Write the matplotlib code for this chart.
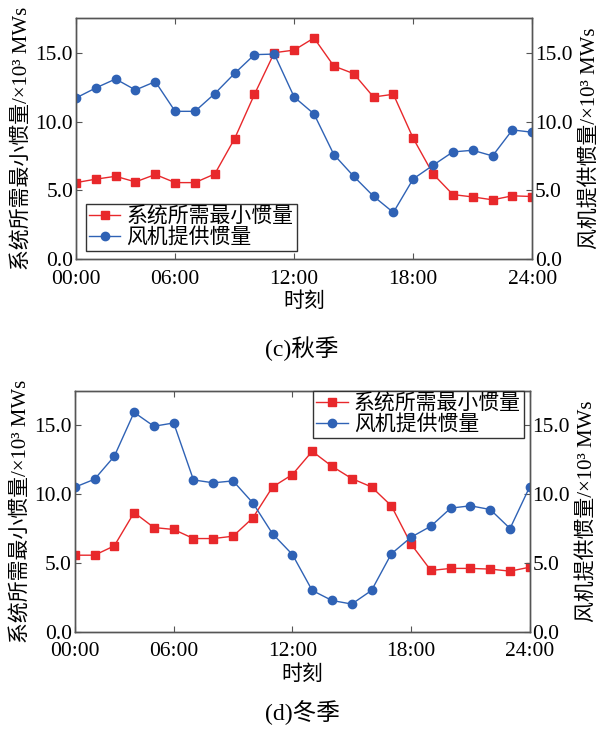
import matplotlib
matplotlib.use("Agg")
import matplotlib.pyplot as plt

plt.rcParams["font.family"] = ["Liberation Serif", "Noto Sans CJK SC"]
plt.rcParams["axes.unicode_minus"] = False

# hours 1..24 (first point drawn at the 00:00 tick)
hours = list(range(1, 25))
tick_pos = [1, 6, 12, 18, 24]
tick_lab = ["00:00", "06:00", "12:00", "18:00", "24:00"]

# (c) autumn
need_c = [5.56, 5.81, 6.02, 5.61, 6.15, 5.56, 5.56, 6.19, 8.76, 11.98, 15.0, 15.19,
          16.07, 14.03, 13.48, 11.78, 11.98, 8.78, 6.19, 4.69, 4.52, 4.31, 4.60, 4.55]
wind_c = [11.71, 12.44, 13.09, 12.29, 12.90, 10.74, 10.74, 12.03, 13.50, 14.86, 14.90, 11.78,
          10.55, 7.60, 6.02, 4.57, 3.39, 5.83, 6.82, 7.79, 7.91, 7.50, 9.39, 9.22]

# (d) winter
need_d = [5.56, 5.56, 6.24, 8.66, 7.57, 7.43, 6.77, 6.77, 6.94, 8.27, 10.52, 11.42,
          13.11, 12.02, 11.13, 10.52, 9.15, 6.36, 4.45, 4.60, 4.60, 4.55, 4.40, 4.69]
wind_d = [10.50, 11.08, 12.75, 15.94, 14.93, 15.17, 11.03, 10.82, 10.96, 9.36, 7.11, 5.61,
          3.00, 2.27, 2.01, 3.00, 5.66, 6.87, 7.67, 8.98, 9.15, 8.88, 7.50, 10.55]

RED = "#e8282b"
BLUE = "#2f62b5"
EDGE = "#555555"
TICK_FS = 15.5
CJK_FS = 15


def panel(rect, need, wind, caption, cap_y, legend_loc, legend_anchor):
    ax = fig.add_axes(rect)
    ax2 = ax.twinx()
    l1, = ax.plot(hours, need, "-s", color=RED, lw=1.0, ms=5.5, label="系统所需最小惯量")
    l2, = ax2.plot(hours, wind, "-o", color=BLUE, lw=1.0, ms=6, label="风机提供惯量")
    for a in (ax, ax2):
        a.set_xlim(1, 24)
        a.set_ylim(0, 17.5)
        a.set_yticks([0, 5, 10, 15])
        a.set_yticklabels(["0.0", "5.0", "10.0", "15.0"])
        for s in a.spines.values():
            s.set_color(EDGE)
            s.set_linewidth(1.0)
    ax.set_xticks(tick_pos)
    ax.set_xticklabels(tick_lab)
    ax.tick_params(axis="both", direction="in", length=4, width=0.8, color=EDGE,
                   labelsize=TICK_FS, top=True, pad=2)
    ax.tick_params(axis="x", pad=7.5)
    ax2.tick_params(axis="y", direction="in", length=4, width=0.8, color=EDGE,
                    labelsize=TICK_FS, pad=2)
    ax.set_xlabel("时刻", fontsize=CJK_FS, labelpad=3)
    ax.set_ylabel("系统所需最小惯量/×10³ MWs", fontsize=CJK_FS, labelpad=3)
    ax2.set_ylabel("风机提供惯量/×10³ MWs", fontsize=CJK_FS, labelpad=5)
    leg = ax2.legend([l1, l2], [l1.get_label(), l2.get_label()], loc=legend_loc,
                     bbox_to_anchor=legend_anchor, fontsize=CJK_FS, frameon=True,
                     fancybox=False, edgecolor="#333333", borderpad=0.15,
                     handlelength=1.5, handletextpad=0.3, labelspacing=0.05,
                     borderaxespad=0, framealpha=1)
    leg.get_frame().set_linewidth(1.0)
    fig.text(0.505, cap_y, caption, fontsize=17, ha="center", va="center")
    return ax


fig = plt.figure(figsize=(5.98, 7.32), dpi=100)
panel([0.127, 0.646, 0.763, 0.329], need_c, wind_c, "(c)秋季", 0.524,
      "lower left", (0.022, 0.033))
panel([0.125, 0.137, 0.761, 0.329], need_d, wind_d, "(d)冬季", 0.026,
      "upper right", (0.987, 1.0))

fig.savefig("out.png", dpi=100)
